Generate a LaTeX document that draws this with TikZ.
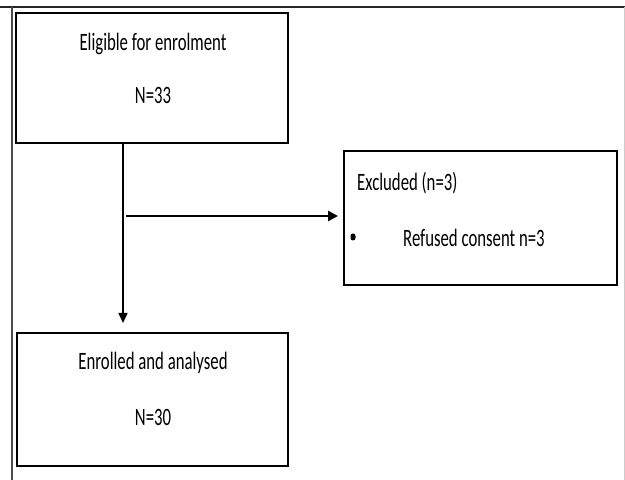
\documentclass[tikz,border=0pt]{standalone}
\usepackage{fontspec}
\newfontfamily\cf[FakeStretch=0.67]{Carlito}
\usetikzlibrary{arrows.meta}
\begin{document}
\begin{tikzpicture}[x=1pt,y=1pt,
  flowbox/.style={draw=black,line width=2.8pt,minimum width=#1,inner sep=0pt,fill=white},
  lbl/.style={font=\cf\fontsize{25}{27}\selectfont,inner sep=0pt,anchor=center},
  conn/.style={line width=2pt,-{Triangle[length=10pt,width=9pt]}}]
\useasboundingbox (0,0) rectangle (625,480);
% outer frame
\draw[line width=1.6pt,black!85] (0,473) -- (625,473);
\draw[line width=1.2pt,black!70] (12,473) -- (12,0);
\draw[line width=1pt,black!20] (624,473) -- (624,0);
% boxes
\node[flowbox=272pt,minimum height=130pt] (b1) at (152,402) {};
\node[flowbox=273pt,minimum height=134pt] (b2) at (480.5,262) {};
\node[flowbox=271pt,minimum height=133pt] (b3) at (152.5,80.5) {};
% texts
\node[lbl] (t1a) at (153,436) {Eligible for enrolment};
\node[lbl] (t1b) at (153,385) {N=33};
\node[lbl,anchor=west] (t2a) at (357,297) {Excluded (n=3)};
\node[lbl,anchor=west] (t2b) at (403,242) {Refused consent n=3};
\node[fill=black,inner sep=0pt,minimum width=5pt,minimum height=7pt,rounded corners=2.5pt] (dot) at (353,243) {};
\node[lbl] (t3a) at (153,117) {Enrolled and analysed};
\node[lbl] (t3b) at (153,63) {N=30};
% connectors
\coordinate (vtop) at ([xshift=-29pt]b1.south);
\coordinate (vend) at (123,157);
\coordinate (hstart) at (126,264);
\coordinate (hend) at (338,264);
\draw[conn,line width=1.6pt] (vtop) -- (vend);
\draw[conn,line width=2.6pt,-{Triangle[length=10pt,width=10pt]}] (hstart) -- (hend);
\end{tikzpicture}
\end{document}
